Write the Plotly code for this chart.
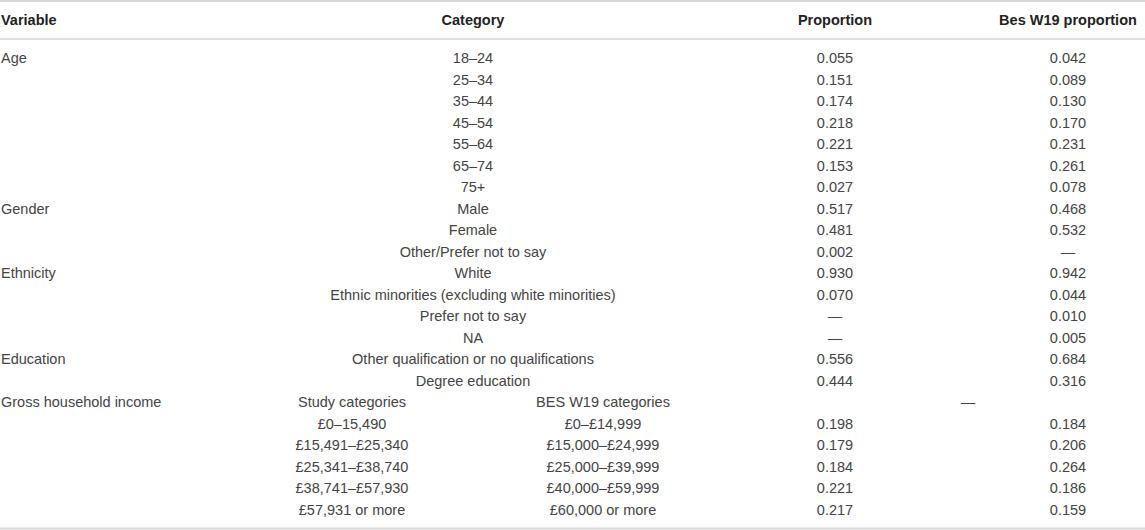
import plotly.graph_objects as go

# table content
variables = ["Age", "Gender", "Ethnicity", "Education", "Gross household income"]
group_sizes = [7, 3, 4, 2, 6]

categories = ["18–24", "25–34", "35–44", "45–54", "55–64", "65–74", "75+",
              "Male", "Female", "Other/Prefer not to say",
              "White", "Ethnic minorities (excluding white minorities)", "Prefer not to say", "NA",
              "Other qualification or no qualifications", "Degree education"]
proportion = [0.055, 0.151, 0.174, 0.218, 0.221, 0.153, 0.027,
              0.517, 0.481, 0.002,
              0.930, 0.070, None, None,
              0.556, 0.444]
bes_proportion = [0.042, 0.089, 0.130, 0.170, 0.231, 0.261, 0.078,
                  0.468, 0.532, None,
                  0.942, 0.044, 0.010, 0.005,
                  0.684, 0.316]

study_income = ["Study categories", "£0–15,490", "£15,491–£25,340", "£25,341–£38,740",
                "£38,741–£57,930", "£57,931 or more"]
bes_income = ["BES W19 categories", "£0–£14,999", "£15,000–£24,999", "£25,000–£39,999",
              "£40,000–£59,999", "£60,000 or more"]
income_proportion = [None, 0.198, 0.179, 0.184, 0.221, 0.217]
income_bes_proportion = [None, 0.184, 0.206, 0.264, 0.186, 0.159]

headers = ["Variable", "Category", "Proportion", "Bes W19 proportion"]

# layout constants (pixels)
W, H = 1145, 530
X_VAR, X_CAT, X_PROP, X_BES = 1, 473, 835, 1068
X_STUDY, X_BESCAT, X_DASH = 352, 603, 968
Y_HEAD, Y_FIRST, ROW_H = 21.5, 59.5, 21.5
TEXT_COL, HEAD_COL, LINE_COL = "#444444", "#222222", "#d6d6d6"
FONT = "Liberation Sans"
SIZE = 14.5


def fmt(v):
    return "—" if v is None else f"{v:.3f}"


def row_y(i):
    return Y_FIRST + ROW_H * i


fig = go.Figure()


def add_text(xs, ys, texts, pos="middle center", color=TEXT_COL, weight="normal"):
    fig.add_trace(go.Scatter(
        x=xs, y=ys, text=texts, mode="text", textposition=pos,
        textfont=dict(family=FONT, size=SIZE, color=color, weight=weight),
        hoverinfo="skip", showlegend=False, cliponaxis=False,
    ))


# header
add_text([X_VAR], [Y_HEAD], [headers[0]], pos="middle right", color=HEAD_COL, weight="bold")
add_text([X_CAT, X_PROP, X_BES], [Y_HEAD] * 3, headers[1:], color=HEAD_COL, weight="bold")

# variable names
starts = [sum(group_sizes[:k]) for k in range(len(group_sizes))]
add_text([X_VAR] * len(variables), [row_y(s) for s in starts], variables, pos="middle right")

# regular rows
n = len(categories)
ys = [row_y(i) for i in range(n)]
add_text([X_CAT] * n, ys, categories)
add_text([X_PROP] * n, ys, [fmt(v) for v in proportion])
add_text([X_BES] * n, ys, [fmt(v) for v in bes_proportion])

# income rows
m = len(study_income)
ys_inc = [row_y(n + i) for i in range(m)]
add_text([X_STUDY] * m, ys_inc, study_income)
add_text([X_BESCAT] * m, ys_inc, bes_income)
add_text([X_DASH], [ys_inc[0]], ["—"])
add_text([X_PROP] * (m - 1), ys_inc[1:], [fmt(v) for v in income_proportion[1:]])
add_text([X_BES] * (m - 1), ys_inc[1:], [fmt(v) for v in income_bes_proportion[1:]])

# rules
for y, w in [(1, 2), (39, 1.5), (528.5, 2)]:
    fig.add_shape(type="line", x0=0, x1=W, y0=y, y1=y, xref="x", yref="y",
                  line=dict(color=LINE_COL, width=w))

fig.update_layout(
    width=W, height=H,
    margin=dict(l=0, r=0, t=0, b=0),
    paper_bgcolor="white", plot_bgcolor="white",
    xaxis=dict(range=[0, W], visible=False, fixedrange=True),
    yaxis=dict(range=[H, 0], visible=False, fixedrange=True),
)

# page body has a default 8px margin; drop it so the table sits at the window edge
fig.write_html("out.html", config={"displayModeBar": False},
               post_script="document.body.style.margin='0';")
